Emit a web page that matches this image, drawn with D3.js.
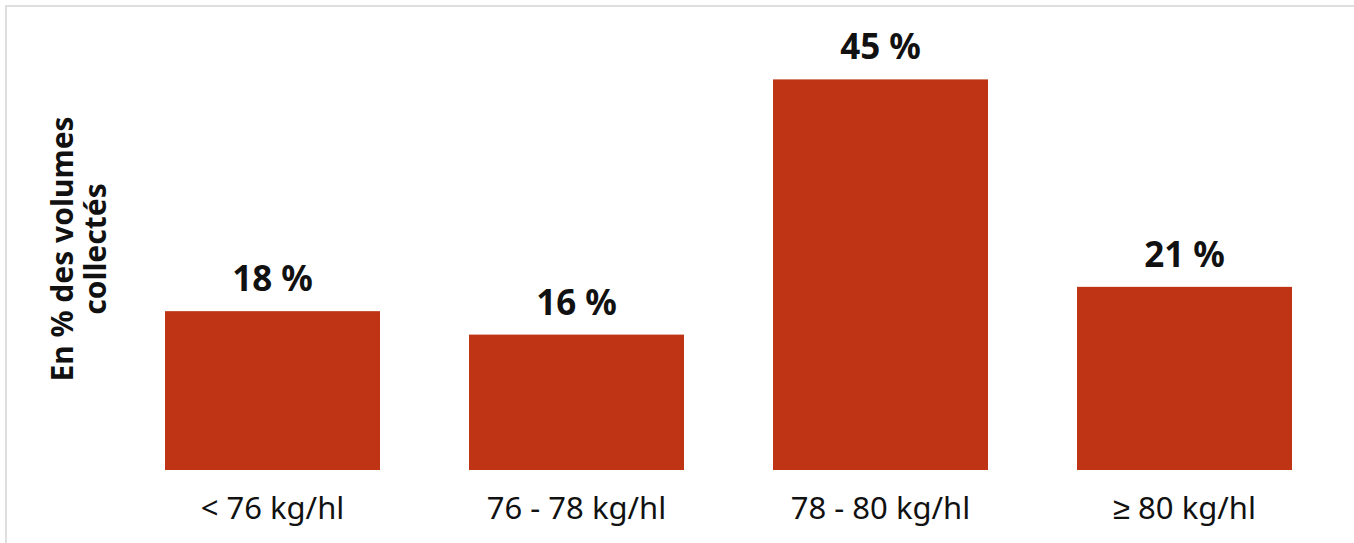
<!DOCTYPE html>
<html>
<head>
<meta charset="utf-8">
<script src="https://cdn.jsdelivr.net/npm/d3@7"></script>
<style>
  html, body { margin: 0; padding: 0; background: #fff; }
  svg { display: block; }
</style>
</head>
<body>
<div id="chart"></div>
<script>
// données
const categories = ['< 76 kg/hl', '76 - 78 kg/hl', '78 - 80 kg/hl', '≥ 80 kg/hl'];
const values = [18.3, 15.6, 45.0, 21.1];
const axisTitleLines = ['En % des volumes', 'collectés'];

const width = 1354, height = 543;
const margin = { top: 36, right: 62, bottom: 73, left: 165 };

const svg = d3.select('#chart').append('svg')
  .attr('width', width)
  .attr('height', height);

// cadre gris clair
svg.append('rect')
  .attr('x', 6).attr('y', 6)
  .attr('width', width + 10).attr('height', height + 10)
  .attr('fill', 'none')
  .attr('stroke', '#dedede')
  .attr('stroke-width', 2);

const x = d3.scaleBand()
  .domain(categories)
  .range([margin.left, width - margin.right])
  .paddingInner(89 / 304)
  .paddingOuter(0);

const y = d3.scaleLinear()
  .domain([0, 50])
  .range([height - margin.bottom, margin.top]);

const g = svg.append('g');

g.selectAll('.bar')
  .data(values)
  .enter()
  .append('rect')
  .attr('class', 'bar')
  .attr('x', (d, i) => x(categories[i]))
  .attr('y', d => y(d))
  .attr('width', x.bandwidth())
  .attr('height', d => y(0) - y(d))
  .attr('fill', '#c03416');

// étiquettes de valeurs
g.selectAll('.val')
  .data(values)
  .enter()
  .append('text')
  .attr('class', 'val')
  .attr('x', (d, i) => x(categories[i]) + x.bandwidth() / 2)
  .attr('y', d => y(d) - 20)
  .attr('text-anchor', 'middle')
  .style('font-family', 'Noto Sans, sans-serif')
  .style('font-weight', 700)
  .style('font-size', '35px')
  .style('fill', '#111')
  .text(d => d3.format('.0f')(d) + ' %');

// axe des catégories (sans trait)
const xAxis = g.append('g')
  .attr('transform', `translate(0,${y(0)})`)
  .call(d3.axisBottom(x).tickSize(0).tickPadding(49));
xAxis.select('.domain').remove();
xAxis.selectAll('text')
  .style('font-family', 'Noto Sans, sans-serif')
  .style('font-size', '31px')
  .style('fill', '#111')
  .attr('dy', 0);

// titre de l'axe vertical
const title = svg.append('text')
  .attr('transform', 'translate(62,249) rotate(-90)')
  .attr('text-anchor', 'middle')
  .style('font-family', 'Noto Sans, sans-serif')
  .style('font-weight', 700)
  .style('font-size', '30px')
  .style('fill', '#111');
title.selectAll('tspan')
  .data(axisTitleLines)
  .enter()
  .append('tspan')
  .attr('x', 0)
  .attr('dy', (d, i) => i === 0 ? '0.35em' : '1.1em')
  .text(d => d);
</script>
</body>
</html>
